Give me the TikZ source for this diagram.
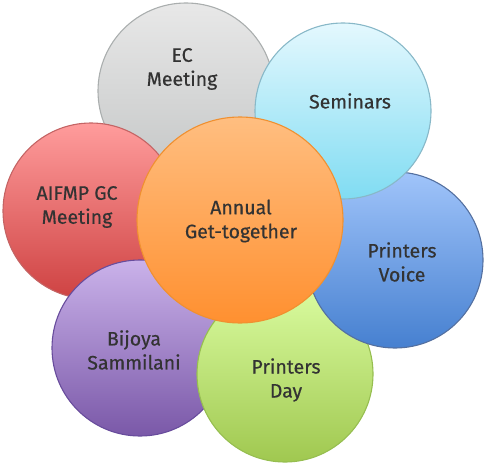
\documentclass[tikz,border=0pt]{standalone}
\usepackage{fontspec}
\newfontfamily\bubblefont[FakeBold=0.5]{Fira Sans}
\usetikzlibrary{shapes.geometric}

\definecolor{txtgray}{HTML}{333333}

\begin{document}
\begin{tikzpicture}[x=1pt, y=-1pt,
  bubble/.style={circle, inner sep=0pt, minimum size=176pt, line width=1.1pt},
  label/.style={align=center, text=txtgray, font=\bubblefont\fontsize{19.5}{24}\selectfont}]
\useasboundingbox (0,0) rectangle (486,465);

%draw outer bubbles (back to front)
\node[bubble, top color={rgb,255:red,232;green,232;blue,232}, bottom color={rgb,255:red,196;green,198;blue,198}, draw={rgb,255:red,170;green,174;blue,174}] (ec) at (186,91) {};
\node[bubble, top color={rgb,255:red,255;green,156;blue,156}, bottom color={rgb,255:red,206;green,66;blue,66}, draw={rgb,255:red,196;green,100;blue,100}] (gc) at (91,211) {};
\node[bubble, top color={rgb,255:red,202;green,178;blue,234}, bottom color={rgb,255:red,122;green,88;blue,168}, draw={rgb,255:red,104;green,76;blue,156}] (bijoya) at (140,348) {};
\node[bubble, top color={rgb,255:red,218;green,252;blue,160}, bottom color={rgb,255:red,160;green,200;blue,80}, draw={rgb,255:red,150;green,190;blue,80}] (day) at (285,374) {};
\node[bubble, top color={rgb,255:red,160;green,196;blue,250}, bottom color={rgb,255:red,70;green,128;blue,208}, draw={rgb,255:red,84;green,112;blue,160}] (voice) at (395,260) {};
\node[bubble, top color={rgb,255:red,228;green,248;blue,254}, bottom color={rgb,255:red,128;green,220;blue,242}, draw={rgb,255:red,136;green,184;blue,200}] (seminars) at (343,111) {};

%draw centre bubble
\node[bubble, minimum size=206pt, top color={rgb,255:red,255;green,190;blue,128}, bottom color={rgb,255:red,255;green,144;blue,48}, draw={rgb,255:red,240;green,144;blue,48}] (annual) at (240,220) {};

%labels
\node[label] (ectext) at (182,69) {EC\\Meeting};
\node[label] (gctext) at (77,207) {AIFMP GC\\Meeting};
\node[label] (bijoyatext) at (134,350) {Bijoya\\Sammilani};
\node[label] (daytext) at (286,380) {Printers\\Day};
\node[label] (voicetext) at (402,262) {Printers\\Voice};
\node[label] (seminarstext) at (350,101) {Seminars};
\node[label] (annualtext) at (241,221) {Annual\\Get-together};
\end{tikzpicture}
\end{document}
